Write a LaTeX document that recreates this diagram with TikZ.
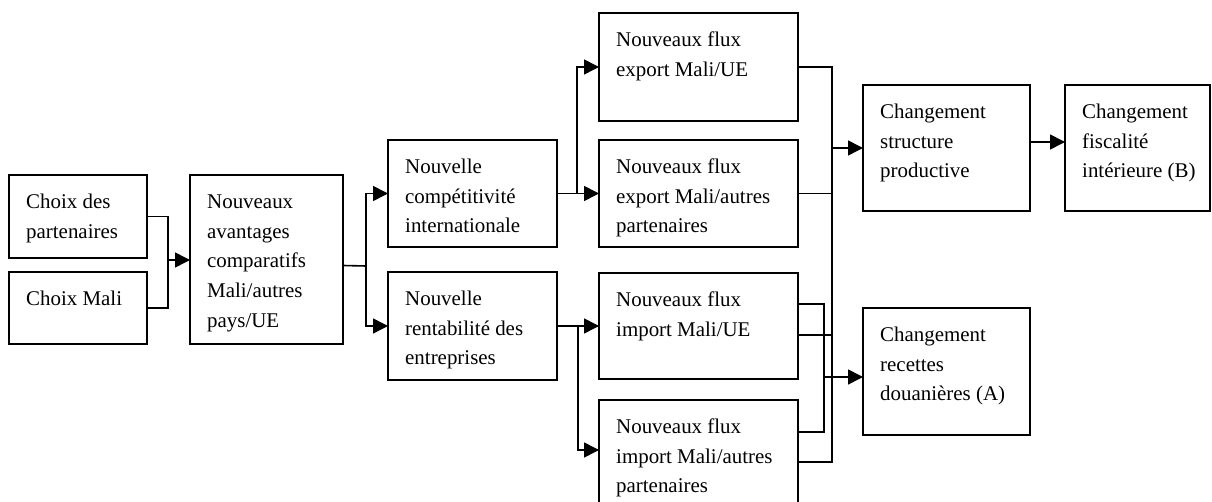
\documentclass[tikz,border=0pt]{standalone}
\usepackage{fontspec}
\setmainfont{Liberation Serif}
\usetikzlibrary{arrows.meta}
\newcommand{\firstln}{\rule{0pt}{21bp}}
\begin{document}
\begin{tikzpicture}[x=1bp,y=-1bp,
  box/.style={draw, line width=1.1bp, rectangle, inner sep=0pt, outer sep=0pt, anchor=north west},
  txt/.style={anchor=north west, inner sep=0pt, align=left, font=\fontsize{21}{30}\selectfont},
  conn/.style={line width=1.6bp},
  arr/.style={line width=1.6bp, -{Triangle[length=15bp,width=15bp]}}]
\useasboundingbox (0,0) rectangle (1212,502);
\clip (0,0) rectangle (1212,502);
% boxes
\node[box, minimum width=138bp, minimum height=83bp]  (b1)  at (9,175) {};
\node[box, minimum width=138bp, minimum height=72bp]  (b2)  at (9,272) {};
\node[box, minimum width=153bp, minimum height=169bp] (b3)  at (190,175) {};
\node[box, minimum width=169bp, minimum height=107bp] (b4)  at (388,140) {};
\node[box, minimum width=169bp, minimum height=108bp] (b5)  at (388,272) {};
\node[box, minimum width=199bp, minimum height=108bp] (b6)  at (599,13) {};
\node[box, minimum width=199bp, minimum height=107bp] (b7)  at (599,140) {};
\node[box, minimum width=199bp, minimum height=106bp] (b8)  at (599,273) {};
\node[box, minimum width=199bp, minimum height=105bp] (b9)  at (599,400) {};
\node[box, minimum width=167bp, minimum height=126bp] (b10) at (863,85) {};
\node[box, minimum width=145bp, minimum height=126bp] (b11) at (1065,85) {};
\node[box, minimum width=167bp, minimum height=127bp] (b12) at (863,308) {};
% texts
\node[txt] (t1)  at ([xshift=17bp,yshift=-12bp]b1.north west)  {\firstln Choix des\\partenaires};
\node[txt] (t2)  at ([xshift=17bp,yshift=-12bp]b2.north west)  {\firstln Choix Mali};
\node[txt] (t3)  at ([xshift=17bp,yshift=-12bp]b3.north west)  {\firstln Nouveaux\\avantages\\comparatifs\\Mali/autres\\pays/UE};
\node[txt] (t4)  at ([xshift=17bp,yshift=-12bp]b4.north west)  {\firstln Nouvelle\\compétitivité\\internationale};
\node[txt] (t5)  at ([xshift=17bp,yshift=-12bp]b5.north west)  {\firstln Nouvelle\\rentabilité des\\entreprises};
\node[txt] (t6)  at ([xshift=17bp,yshift=-12bp]b6.north west)  {\firstln Nouveaux flux\\export Mali/UE};
\node[txt] (t7)  at ([xshift=17bp,yshift=-12bp]b7.north west)  {\firstln Nouveaux flux\\export Mali/autres\\partenaires};
\node[txt] (t8)  at ([xshift=17bp,yshift=-12bp]b8.north west)  {\firstln Nouveaux flux\\import Mali/UE};
\node[txt] (t9)  at ([xshift=17bp,yshift=-12bp]b9.north west)  {\firstln Nouveaux flux\\import Mali/autres\\partenaires};
\node[txt] (t10) at ([xshift=17bp,yshift=-12bp]b10.north west) {\firstln Changement\\structure\\productive};
\node[txt] (t11) at ([xshift=17bp,yshift=-12bp]b11.north west) {\firstln Changement\\fiscalité\\intérieure (B)};
\node[txt] (t12) at ([xshift=17bp,yshift=-12bp]b12.north west) {\firstln Changement\\recettes\\douanières (A)};
% junctions
\coordinate (j1) at (168,260);
\coordinate (j2) at (366,266);
\coordinate (j3) at (577,193.5);
\coordinate (j4) at (578,326);
\coordinate (ja) at (832,148);
\coordinate (jb) at (824,377);
% connectors
\draw[conn] (b1.east) -| (j1);
\draw[conn] (b2.east) -| (j1);
\draw[arr] (j1) -- (b3.west |- j1);
\draw[conn] ([yshift=-6bp]b3.east) -- (j2);
\draw[arr] (j2) |- (b4.west);
\draw[arr] (j2) |- (b5.west);
\draw[arr] (b4.east) -- (b7.west);
\draw[arr] (j3) |- (b6.west);
\draw[arr] (b5.east) -- (b8.west);
\draw[arr] (j4) |- ([yshift=2.5bp]b9.west);
% right side collectors
\draw[conn] (b6.east) -| (ja) |- ([yshift=-9.5bp]b9.east);
\draw[conn] (b7.east) -- (b7.east -| ja);
\draw[conn] ([yshift=-9bp]b8.east) -- ([yshift=-9bp]b8.east -| ja);
\draw[arr] (ja) -- (b10.west);
\draw[conn] ([yshift=22bp]b8.east) -| (jb) |- ([yshift=20.5bp]b9.east);
\draw[arr] (jb) -- (b12.west |- jb);
\draw[arr] ([yshift=6bp]b10.east) -- ([yshift=6bp]b11.west);
\end{tikzpicture}
\end{document}
